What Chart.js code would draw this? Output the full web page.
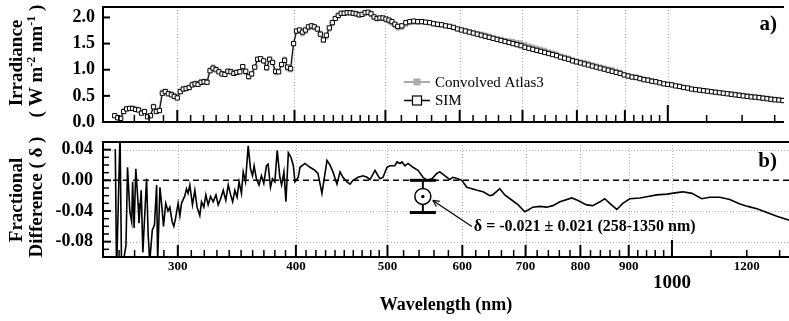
<!DOCTYPE html>
<html><head><meta charset="utf-8">
<script src="https://cdn.jsdelivr.net/npm/chart.js@4.4.0/dist/chart.umd.min.js"></script>
<style>
html,body{margin:0;padding:0;background:#fff;overflow:hidden;}
#wrap{position:relative;width:789px;height:321px;background:#fff;}
canvas{display:block;position:absolute;left:0;}
#c1{top:0;}
#c2{top:130px;}
</style></head>
<body><div id="wrap"><canvas id="c1" width="789" height="130"></canvas><canvas id="c2" width="789" height="191"></canvas></div>
<script>
// ---------------- DATA ----------------
const wavelength = [257.3,259.2,261.1,263.0,264.9,266.9,268.9,270.8,272.8,274.8,276.8,278.9,280.9,283.0,285.0,287.1,289.2,291.3,293.5,295.7,297.8,300.0,302.2,304.4,306.6,308.9,311.2,313.4,315.7,318.1,320.4,322.7,325.1,327.5,329.9,332.3,334.8,337.2,339.7,342.2,344.7,347.2,349.8,352.3,354.9,357.5,360.1,362.8,365.5,368.1,370.9,373.6,376.3,379.1,381.9,384.7,387.5,390.4,393.3,396.2,399.1,402.0,405.0,407.9,410.9,413.9,417.0,420.0,423.1,426.2,429.4,432.5,435.7,438.9,442.1,445.4,448.6,451.9,455.3,458.6,462.0,465.4,468.8,472.2,475.7,479.2,482.7,486.3,489.8,493.4,497.1,500.7,504.4,508.1,511.8,515.5,
520.6,525.7,530.8,536.0,541.3,546.6,551.9,557.3,562.8,568.3,573.9,579.5,585.2,590.9,596.7,602.5,608.4,614.4,620.4,626.5,632.6,638.8,645.1,651.4,657.8,664.2,670.7,677.3,683.9,690.6,697.4,704.2,711.1,718.1,725.1,732.2,739.3,746.6,753.9,761.2,768.7,776.2,783.8,791.5,799.2,807.0,814.9,822.9,831.0,839.1,847.3,855.6,864.0,872.4,881.0,889.6,898.3,907.1,916.0,925.0,934.0,943.2,952.4,961.7,971.1,980.6,990.2,999.9,1009.7,1019.6,1029.6,1039.7,1049.9,1060.1,1070.5,1081.0,1091.6,1102.3,1113.1,1124.0,1135.0,1146.1,1157.3,1168.6,1180.1,1191.6,1203.3,1215.1,1227.0,1239.0,1251.1,1263.4,1275.7,1288.2,1300.8,1313.6,1326.4];

const simIrradiance = [0.12,0.08,0.07,0.2,0.25,0.26,0.26,0.24,0.23,0.17,0.2,0.1,0.12,0.29,0.2,0.22,0.55,0.58,0.54,0.52,0.49,0.46,0.58,0.63,0.64,0.66,0.71,0.73,0.72,0.76,0.77,0.76,0.98,1.03,1.0,0.96,0.92,0.91,0.97,0.96,0.93,0.95,0.96,1.06,0.97,0.87,0.92,1.05,1.2,1.21,1.17,1.04,1.2,1.14,0.97,0.96,1.1,1.18,1.05,1.02,1.5,1.74,1.76,1.72,1.76,1.82,1.84,1.82,1.78,1.68,1.57,1.66,1.8,1.9,1.98,2.04,2.08,2.08,2.09,2.09,2.08,2.07,2.05,2.06,2.09,2.1,2.07,2.01,1.98,1.99,1.99,1.97,1.95,1.92,1.87,1.83,
1.84,1.9,1.92,1.93,1.92,1.92,1.91,1.9,1.88,1.87,1.86,1.84,1.83,1.81,1.78,1.76,1.74,1.72,1.7,1.68,1.66,1.64,1.62,1.6,1.58,1.56,1.54,1.52,1.5,1.48,1.46,1.43,1.41,1.39,1.37,1.35,1.33,1.31,1.29,1.27,1.24,1.22,1.2,1.17,1.15,1.13,1.11,1.09,1.07,1.05,1.03,1.01,0.99,0.97,0.95,0.93,0.9,0.88,0.86,0.85,0.83,0.81,0.8,0.78,0.77,0.75,0.73,0.72,0.71,0.69,0.68,0.66,0.65,0.63,0.62,0.61,0.6,0.59,0.58,0.57,0.56,0.55,0.54,0.53,0.52,0.51,0.5,0.49,0.48,0.475,0.465,0.455,0.445,0.435,0.425,0.42,0.41];

const atlasIrradiance = [0.12,0.09,0.07,0.22,0.26,0.27,0.27,0.24,0.24,0.18,0.21,0.11,0.13,0.31,0.2,0.23,0.58,0.6,0.56,0.55,0.52,0.47,0.6,0.64,0.65,0.66,0.73,0.75,0.75,0.78,0.79,0.78,1.0,1.06,1.02,0.98,0.93,0.93,0.98,0.98,0.94,0.96,0.97,1.05,0.94,0.85,0.91,1.04,1.21,1.2,1.16,1.02,1.21,1.14,0.93,0.96,1.09,1.21,1.01,0.99,1.5,1.73,1.73,1.68,1.72,1.79,1.81,1.8,1.77,1.71,1.55,1.62,1.77,1.88,1.99,2.02,2.07,2.08,2.1,2.09,2.08,2.06,2.04,2.05,2.08,2.1,2.05,1.99,1.97,1.98,1.97,1.94,1.91,1.88,1.83,1.79,
1.8,1.86,1.89,1.9,1.9,1.91,1.91,1.9,1.87,1.85,1.85,1.84,1.82,1.8,1.78,1.77,1.76,1.74,1.72,1.7,1.69,1.67,1.65,1.62,1.6,1.59,1.57,1.56,1.55,1.53,1.52,1.49,1.46,1.44,1.42,1.4,1.38,1.35,1.33,1.31,1.27,1.25,1.23,1.2,1.18,1.16,1.15,1.13,1.1,1.08,1.06,1.04,1.02,1.01,0.98,0.96,0.92,0.9,0.88,0.87,0.85,0.83,0.82,0.8,0.78,0.76,0.74,0.73,0.72,0.7,0.69,0.67,0.66,0.64,0.63,0.62,0.61,0.6,0.59,0.58,0.57,0.56,0.55,0.55,0.54,0.53,0.52,0.51,0.5,0.49,0.485,0.475,0.465,0.455,0.445,0.44,0.43];

const diffWavelength = [257.6,258.4,260.6,261.6,264.4,265.4,266.9,268.1,268.7,269.7,270.8,272.3,272.9,274.4,275.5,277.0,278.0,279.1,280.2,281.9,283.4,284.9,285.6,287.2,288.6,289.7,291.3,292.9,294.2,295.9,297.1,298.3,300.2,301.5,302.7,305.2,306.4,307.6,308.9,310.9,312.7,314.4,316.5,317.8,319.6,321.2,323.0,324.9,327.0,329.2,331.0,333.0,335.1,337.2,339.2,341.2,342.9,344.7,346.6,348.3,350.3,351.8,353.8,356.1,358.1,359.9,361.3,363.3,365.6,367.8,369.9,372.3,373.8,376.0,377.8,380.0,382.2,384.7,386.3,388.5,390.4,392.7,395.2,397.5,399.1,402.3,404.0,409.0,414.0,419.0,422.1,426.2,431.5,434.6,437.8,442.1,445.4,448.6,453.0,456.4,459.7,465.4,471.1,475.7,479.2,485.0,488.6,491.0,494.6,499.4,503.1,509.0,511.8,515.5,518.0,521.8,525.7,532.1,538.6,545.2,550.5,557.3,563.8,568.0,574.9,581.9,586.3,593.4,599.2,606.6,614.4,622.0,631.3,641.5,646.2,657.4,665.4,677.3,687.5,698.6,703.7,712.5,724.6,737.1,748.1,761.2,783.4,794.4,812.3,824.5,839.1,849.0,859.4,874.2,887.1,902.3,925.0,943.2,964.0,987.9,1011.8,1026.7,1049.9,1075.3,1096.5,1124.0,1151.3,1180.1,1203.3,1230.0,1260.4,1291.4,1330.0];

const fractionalDiff = [0.041,-0.12,0.06,-0.12,-0.085,0.017,-0.041,-0.054,-0.002,-0.062,0.015,-0.03,-0.056,-0.013,-0.094,-0.036,0.002,-0.072,-0.105,-0.065,-0.058,-0.006,-0.105,-0.009,-0.035,-0.06,-0.03,-0.04,-0.035,-0.054,-0.06,-0.05,-0.03,-0.046,-0.03,-0.02,-0.011,-0.017,-0.006,-0.032,-0.013,-0.035,-0.046,-0.028,-0.035,-0.019,-0.032,-0.021,-0.028,-0.019,-0.032,-0.024,-0.013,-0.026,-0.006,-0.019,-0.028,-0.013,-0.022,-0.002,-0.017,0.011,-0.002,0.045,0.015,0.006,0.019,0.002,-0.006,0.006,-0.004,0.019,0.021,-0.009,0.002,-0.002,0.039,0.004,-0.006,0.011,-0.028,0.036,0.03,0.019,-0.002,0.004,0.017,0.022,0.017,0.013,0.009,-0.017,0.026,0.02,0.011,-0.005,0.011,0.004,-0.002,-0.005,0.0,0.004,0.006,0.004,0.001,0.013,0.006,0.002,0.004,0.017,0.019,0.019,0.024,0.022,0.024,0.019,0.022,0.017,0.013,0.004,0.0,0.002,0.009,0.011,0.006,0.001,0.004,0.002,0.0,-0.009,-0.011,-0.013,-0.015,-0.02,-0.019,-0.011,-0.019,-0.026,-0.032,-0.041,-0.039,-0.035,-0.034,-0.035,-0.033,-0.028,-0.023,-0.026,-0.032,-0.033,-0.028,-0.024,-0.03,-0.038,-0.03,-0.024,-0.023,-0.021,-0.019,-0.018,-0.016,-0.015,-0.017,-0.024,-0.022,-0.022,-0.025,-0.031,-0.034,-0.037,-0.042,-0.047,-0.052];

const xRange = [250, 1330];
const xLabelTicks = [300, 400, 500, 600, 700, 800, 900, 1000, 1200];
const xMajorTicks = [300, 400, 500, 600, 700, 800, 900];
const xDecadeTick = 1000;
const xMinorTicks = [260,270,280,290,310,320,330,340,350,360,370,380,390,410,420,430,440,450,460,470,480,490,520,540,560,580,620,640,660,680,720,740,760,780,820,840,860,880,920,940,960,980,1100,1200,1300];
const xGridLines = [300, 400, 500, 600, 700, 800, 900, 1000];
const irrRange = [0, 2.2];
const irrTicks = [0, 0.5, 1.0, 1.5, 2.0];
const diffRange = [-0.1, 0.05];
const diffTicks = [-0.08, -0.04, 0.0, 0.04];
const diffMinorTicks = [-0.09,-0.07,-0.06,-0.05,-0.03,-0.02,-0.01,0.01,0.02,0.03];
const diffGridLines = [-0.08, -0.04, 0.04];
const deltaMean = -0.021, deltaSigma = 0.021, deltaWavelength = 545;
const deltaRangeText = '(258-1350 nm)';

// ---------------- DRAWING ----------------
const FONT = '"Liberation Serif","Times New Roman",serif';
const ATLAS = '#ababab';

function seg(ctx, x1, y1, x2, y2) { ctx.beginPath(); ctx.moveTo(x1, y1); ctx.lineTo(x2, y2); ctx.stroke(); }

function vText(ctx, parts, bx, cy) {
  ctx.save();
  ctx.translate(bx, cy);
  ctx.rotate(-Math.PI / 2);
  let total = 0;
  parts.forEach(p => { ctx.font = p.f; p.w = ctx.measureText(p.t).width; total += p.w; });
  let xx = -total / 2;
  ctx.textAlign = 'left'; ctx.textBaseline = 'alphabetic'; ctx.fillStyle = '#000';
  parts.forEach(p => { ctx.font = p.f; ctx.fillText(p.t, xx, p.dy || 0); xx += p.w; });
  ctx.restore();
}

const decor = {
  id: 'decor',
  beforeDatasetsDraw(chart, args, o) {
    const {ctx, chartArea: a, scales: {x, y}} = chart;
    ctx.save();
    ctx.beginPath(); ctx.rect(a.left, a.top, a.right - a.left, a.bottom - a.top); ctx.clip();
    ctx.strokeStyle = '#b4b4b4'; ctx.lineWidth = 1; ctx.setLineDash([1, 2]);
    xGridLines.forEach(v => { const p = Math.round(x.getPixelForValue(v)) + 0.5; seg(ctx, p, a.top, p, a.bottom); });
    if (o.panel === 'b') {
      diffGridLines.forEach(v => { const p = Math.round(y.getPixelForValue(v)) + 0.5; seg(ctx, a.left, p, a.right, p); });
      ctx.strokeStyle = '#000'; ctx.lineWidth = 1.5; ctx.setLineDash([6, 4]);
      const p0 = y.getPixelForValue(0); seg(ctx, a.left, p0, a.right, p0);
    }
    ctx.restore();
  },
  afterDatasetsDraw(chart, args, o) {
    const {ctx, chartArea: a, scales: {x, y}} = chart;
    ctx.save();
    ctx.strokeStyle = '#000'; ctx.setLineDash([]);
    // x ticks (inward)
    ctx.lineWidth = 1.5;
    xMinorTicks.forEach(v => { const p = x.getPixelForValue(v); seg(ctx, p, a.bottom, p, a.bottom - 7); });
    ctx.lineWidth = 2;
    xMajorTicks.forEach(v => { const p = x.getPixelForValue(v); seg(ctx, p, a.bottom, p, a.bottom - 12); });
    const pd = x.getPixelForValue(xDecadeTick); seg(ctx, pd, a.bottom, pd, a.bottom - 17);
    // y ticks
    if (o.panel === 'a') {
      ctx.lineWidth = 2;
      irrTicks.forEach(v => { const p = y.getPixelForValue(v); seg(ctx, a.left, p, a.left + 7, p); });
    } else {
      ctx.lineWidth = 2;
      diffTicks.forEach(v => { const p = y.getPixelForValue(v); seg(ctx, a.left, p, a.left + 8, p); });
      ctx.lineWidth = 1.5;
      diffMinorTicks.forEach(v => { const p = y.getPixelForValue(v); seg(ctx, a.left, p, a.left + 6, p); });
    }
    // frame
    ctx.lineWidth = 2;
    seg(ctx, a.left - 1, a.top, a.right, a.top);
    seg(ctx, a.left, a.top - 1, a.left, a.bottom + 1);
    seg(ctx, a.left - 1, a.bottom, a.right, a.bottom);

    ctx.fillStyle = '#000';
    ctx.textAlign = 'right'; ctx.textBaseline = 'alphabetic';
    ctx.font = 'bold 21px ' + FONT;
    if (o.panel === 'a') {
      ctx.fillText('a)', 777, 30);
      // legend
      ctx.strokeStyle = ATLAS; ctx.lineWidth = 2; seg(ctx, 404, 82, 430, 82);
      ctx.fillStyle = ATLAS; ctx.fillRect(413.5, 78.5, 7, 7);
      ctx.strokeStyle = '#000'; ctx.lineWidth = 1.5; seg(ctx, 404, 100.5, 430, 100.5);
      ctx.fillStyle = '#fff'; ctx.fillRect(412.5, 96, 9, 9);
      ctx.lineWidth = 1.2; ctx.strokeRect(412.5, 96, 9, 9);
      ctx.fillStyle = '#000'; ctx.textAlign = 'left';
      ctx.font = '15px ' + FONT;
      ctx.fillText('Convolved Atlas3', 435, 87);
      ctx.fillText('SIM', 435, 105);
    } else {
      ctx.fillText('b)', 777, 37);
      // mean +/- sigma marker
      const ex = x.getPixelForValue(deltaWavelength);
      const yT = y.getPixelForValue(deltaMean + deltaSigma);
      const yB = y.getPixelForValue(deltaMean - deltaSigma);
      const yM = y.getPixelForValue(deltaMean);
      ctx.strokeStyle = '#000';
      ctx.lineWidth = 2; seg(ctx, ex, yT, ex, yB);
      ctx.lineWidth = 3; seg(ctx, ex - 13, yT, ex + 13, yT); seg(ctx, ex - 13, yB, ex + 13, yB);
      ctx.beginPath(); ctx.arc(ex, yM, 8, 0, Math.PI * 2); ctx.fillStyle = '#fff'; ctx.fill();
      ctx.lineWidth = 1.5; ctx.stroke();
      ctx.beginPath(); ctx.arc(ex, yM, 1.7, 0, Math.PI * 2); ctx.fillStyle = '#000'; ctx.fill();
      // arrow
      const tx = ex + 10, ty = yM + 4, sx = ex + 49, sy = yM + 30;
      ctx.lineWidth = 1.2; seg(ctx, sx, sy, tx, ty);
      const ang = Math.atan2(ty - sy, tx - sx);
      seg(ctx, tx, ty, tx - 7 * Math.cos(ang - 0.45), ty - 7 * Math.sin(ang - 0.45));
      seg(ctx, tx, ty, tx - 7 * Math.cos(ang + 0.45), ty - 7 * Math.sin(ang + 0.45));
      ctx.fillStyle = '#000'; ctx.textAlign = 'left'; ctx.textBaseline = 'middle';
      ctx.font = 'bold 16px ' + FONT;
      ctx.fillText('\u03B4 = ' + deltaMean.toFixed(3) + ' \u00B1 ' + deltaSigma.toFixed(3) + ' ' + deltaRangeText, sx + 2, sy);
    }
    ctx.restore();
  },
  afterDraw(chart, args, o) {
    const ctx = chart.ctx;
    const B = 'bold 19px ' + FONT, S = 'bold 12px ' + FONT;
    if (o.panel === 'a') {
      vText(ctx, [{t: 'Irradiance', f: B}], 22, 63);
      vText(ctx, [{t: '( W m', f: B}, {t: '-2', f: S, dy: -7}, {t: ' nm', f: B}, {t: '-1', f: S, dy: -7}, {t: ' )', f: B}], 42, 61);
    } else {
      vText(ctx, [{t: 'Fractional', f: B}], 22, 70);
      vText(ctx, [{t: 'Difference ( \u03B4 )', f: B}], 42, 67);
    }
  }
};

const yTickFont = {family: FONT, size: 18, weight: 'bold'};

new Chart(document.getElementById('c1'), {
  type: 'line',
  data: {
    datasets: [
      {label: 'SIM', order: 0, data: wavelength.map((w, i) => ({x: w, y: simIrradiance[i]})),
       borderColor: '#000', borderWidth: 1, pointStyle: 'rect', pointRadius: 3,
       pointBackgroundColor: '#fff', pointBorderColor: '#000', pointBorderWidth: 1},
      {label: 'Convolved Atlas3', order: 1, data: wavelength.map((w, i) => ({x: w, y: atlasIrradiance[i]})),
       borderColor: ATLAS, borderWidth: 2, pointStyle: 'rect', pointRadius: 3,
       pointBackgroundColor: ATLAS, pointBorderColor: ATLAS, pointBorderWidth: 0}
    ]
  },
  options: {
    responsive: false, animation: false, events: [], devicePixelRatio: 1,
    layout: {padding: {left: 0, right: 0, top: 7, bottom: 8}},
    plugins: {legend: {display: false}, tooltip: {enabled: false}, decor: {panel: 'a'}},
    scales: {
      x: {type: 'logarithmic', min: xRange[0], max: xRange[1], display: false},
      y: {type: 'linear', min: irrRange[0], max: irrRange[1],
          afterBuildTicks: s => { s.ticks = irrTicks.map(v => ({value: v})); },
          afterFit: s => { s.width = 103; s.paddingTop = 0; s.paddingBottom = 0; },
          grid: {display: false, drawTicks: false}, border: {display: false},
          ticks: {font: yTickFont, color: '#000', padding: 8, callback: v => Number(v).toFixed(1)}}
    }
  },
  plugins: [decor]
});

new Chart(document.getElementById('c2'), {
  type: 'line',
  data: {
    datasets: [
      {label: 'Fractional Difference', data: diffWavelength.map((w, i) => ({x: w, y: fractionalDiff[i]})),
       borderColor: '#000', borderWidth: 1.6, pointRadius: 0, tension: 0}
    ]
  },
  options: {
    responsive: false, animation: false, events: [], devicePixelRatio: 1,
    layout: {padding: {left: 0, right: 0, top: 12, bottom: 0}},
    plugins: {legend: {display: false}, tooltip: {enabled: false}, decor: {panel: 'b'}},
    scales: {
      x: {type: 'logarithmic', min: xRange[0], max: xRange[1],
          afterBuildTicks: s => { s.ticks = xLabelTicks.map(v => ({value: v})); },
          afterFit: s => { s.height = 64; s.paddingLeft = 0; s.paddingRight = 0; },
          grid: {display: false, drawTicks: false}, border: {display: false},
          ticks: {autoSkip: false, maxRotation: 0, minRotation: 0, padding: 2, color: '#000',
                  font: c => (c.tick && c.tick.value === xDecadeTick)
                        ? {family: FONT, size: 19, weight: 'bold', lineHeight: 0.835}
                        : {family: FONT, size: 13, weight: 'bold', lineHeight: 1.2},
                  callback: v => (v === xDecadeTick ? ['', String(v)] : String(v))},
          title: {display: true, text: 'Wavelength (nm)', color: '#000',
                  font: {family: FONT, size: 18, weight: 'bold'}, padding: {top: 0, bottom: 5}}},
      y: {type: 'linear', min: diffRange[0], max: diffRange[1],
          afterBuildTicks: s => { s.ticks = diffTicks.map(v => ({value: v})); },
          afterFit: s => { s.width = 103; s.paddingTop = 0; s.paddingBottom = 0; },
          grid: {display: false, drawTicks: false}, border: {display: false},
          ticks: {font: yTickFont, color: '#000', padding: 10, callback: v => Number(v).toFixed(2)}}
    }
  },
  plugins: [decor]
});
</script>
</body></html>
